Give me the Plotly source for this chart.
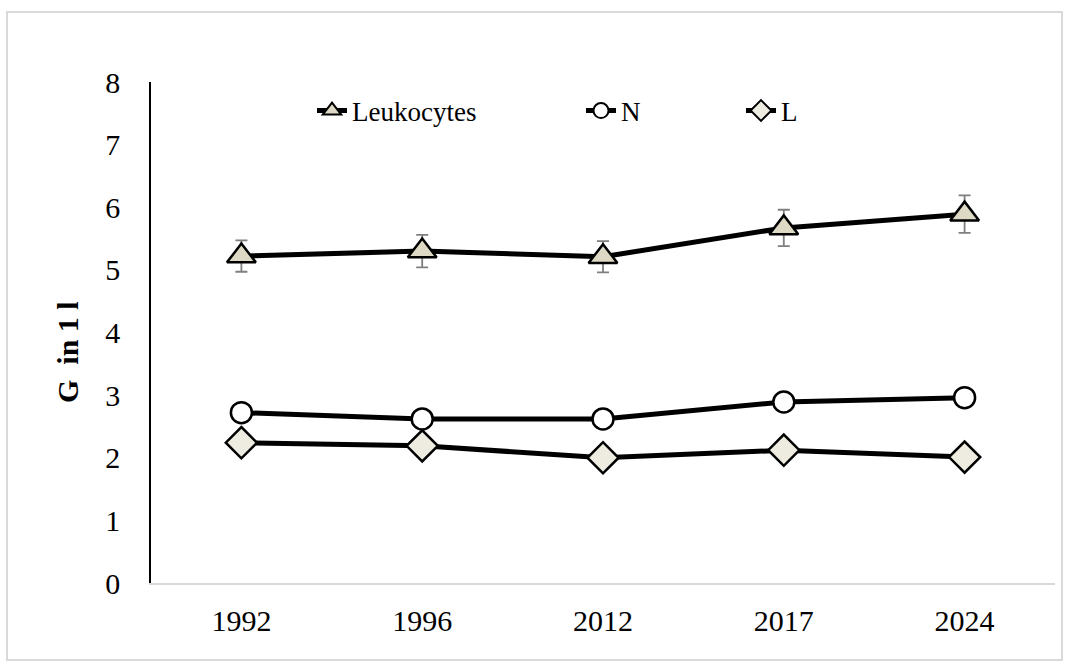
import plotly.graph_objects as go

# Sampling years and blood count means (G/l)
years = ["1992", "1996", "2012", "2017", "2024"]
leukocytes = [5.22, 5.30, 5.21, 5.67, 5.89]
leukocytes_err = [0.25, 0.26, 0.25, 0.29, 0.30]
neutrophils = [2.72, 2.62, 2.62, 2.89, 2.96]
lymphocytes = [2.24, 2.19, 2.00, 2.12, 2.01]

FONT = "Liberation Serif, Times New Roman, serif"

# plot area in pixels (for paper-coordinate placements)
W, H = 1070, 668
L, R, T, B = 151, 1055, 82, 583


def px(x):
    return (x - L) / (R - L)


def py(y):
    return (B - y) / (B - T)


series = [
    dict(name="Leukocytes", y=leukocytes, symbol="triangle-up", fill="#DDD9C4",
         size=25, leg_size=17, err=leukocytes_err, legend="legend"),
    dict(name="N", y=neutrophils, symbol="circle", fill="white",
         size=21, leg_size=15, err=None, legend="legend2"),
    dict(name="L", y=lymphocytes, symbol="diamond", fill="#EEECE1",
         size=24, leg_size=16, err=None, legend="legend3"),
]

fig = go.Figure()

for s in series:
    err = None
    if s["err"] is not None:
        err = dict(type="data", array=s["err"], color="#7f7f7f",
                   thickness=1.8, width=6)
    fig.add_trace(go.Scatter(
        x=years, y=s["y"], name=s["name"], mode="lines+markers",
        line=dict(color="black", width=5),
        marker=dict(symbol=s["symbol"], size=s["size"], color=s["fill"],
                    line=dict(color="black", width=2.5)),
        error_y=err, showlegend=False,
    ))
    # legend entry with a smaller key marker
    fig.add_trace(go.Scatter(
        x=[None], y=[None], name=s["name"], mode="lines+markers",
        line=dict(color="black", width=5),
        marker=dict(symbol=s["symbol"], size=s["leg_size"], color=s["fill"],
                    line=dict(color="black", width=2)),
        legend=s["legend"], showlegend=True,
    ))

leg_common = dict(
    orientation="h", yanchor="middle", xanchor="left",
    bgcolor="rgba(0,0,0,0)", font=dict(family=FONT, size=27, color="black"),
    itemsizing="trace", itemwidth=30,
)

fig.update_layout(
    width=W, height=H,
    margin=dict(l=L, r=W - R, t=T, b=H - B),
    paper_bgcolor="white", plot_bgcolor="white",
    font=dict(family=FONT, size=30, color="black"),
    showlegend=True,
    legend=dict(x=px(312), y=py(111), **leg_common),
    legend2=dict(x=px(581), y=py(111), **leg_common),
    legend3=dict(x=px(741), y=py(111), **leg_common),
    xaxis=dict(
        type="category", range=[-0.5, 4.5],
        showline=True, linecolor="#d9d9d9", linewidth=2,
        showgrid=False, ticks="", zeroline=False,
        tickfont=dict(family=FONT, size=30, color="black"),
        ticklabelstandoff=10,
    ),
    yaxis=dict(
        range=[0, 8], dtick=1, tick0=0,
        showline=True, linecolor="black", linewidth=1.5,
        showgrid=False, ticks="", zeroline=False,
        tickfont=dict(family=FONT, size=30, color="black"),
        ticklabelstandoff=23,
    ),
    annotations=[dict(
        text="<b>G  in 1 l</b>", textangle=-90, showarrow=False,
        xref="paper", yref="paper", x=px(67), y=py(352),
        xanchor="center", yanchor="middle",
        font=dict(family=FONT, size=30, color="black"),
    )],
    shapes=[dict(
        type="rect", xref="paper", yref="paper",
        x0=px(7), x1=px(1062), y0=py(660), y1=py(12),
        line=dict(color="#d9d9d9", width=2), fillcolor="rgba(0,0,0,0)",
        layer="below",
    )],
)

fig.write_html("out.html")
